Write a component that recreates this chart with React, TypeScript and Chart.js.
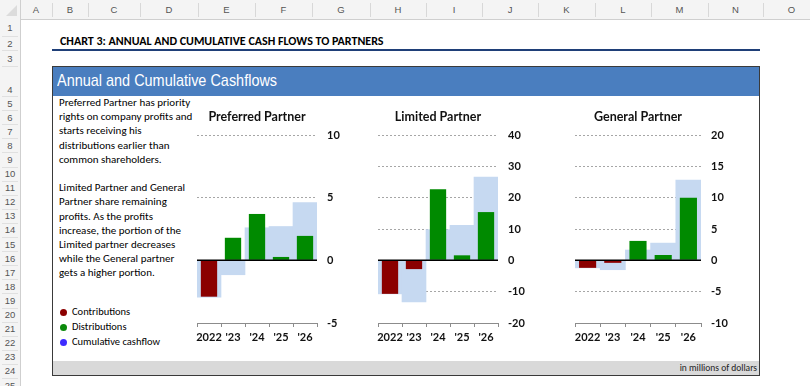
import React, { useEffect, useRef } from "react";
import { Chart, registerables } from "chart.js";
Chart.register(...registerables);

// ---------- data ----------
const years = ["2022", "'23", "'24", "'25", "'26"];

const prefContributions = [-2.9, null, null, null, null];
const prefDistributions = [null, 1.8, 3.7, 0.27, 1.95];
const prefCumulative = [-2.93, -1.15, 2.6, 2.7, 4.6];

const ltdContributions = [-10.7, -2.8, null, null, null];
const ltdDistributions = [null, null, 22.7, 1.6, 15.4];
const ltdCumulative = [-10.7, -13.3, 9.8, 11.2, 26.6];

const genContributions = [-1.2, -0.4, null, null, null];
const genDistributions = [null, null, 3.1, 0.85, 10.0];
const genCumulative = [-1.2, -1.5, 1.65, 2.75, 12.8];

const columnLetters = ["A", "B", "C", "D", "E", "F", "G", "H", "I", "J", "K", "L", "M", "N", "O"];
const rowNumbers = Array.from({ length: 25 }, (_, i) => String(i + 1));

const paragraph1 = [
  "Preferred Partner has priority",
  "rights on company profits and",
  "starts receiving his",
  "distributions earlier than",
  "common shareholders.",
];
const paragraph2 = [
  "Limited Partner and General",
  "Partner share remaining",
  "profits. As the profits",
  "increase, the portion of the",
  "Limited partner decreases",
  "while the General partner",
  "gets a higher portion.",
];
const legendItems = [
  { label: "Contributions", color: "#8b0000" },
  { label: "Distributions", color: "#0b8a0b" },
  { label: "Cumulative cashflow", color: "#3d2bff" },
];

// ---------- layout ----------
const colEdges = [20, 52, 88, 140, 198, 255, 312, 370, 426, 482, 538, 595, 651, 708, 763, 820];
const rowEdges = (() => {
  const e = [19, 36, 50, 66, 96];
  for (let i = 5; i <= 25; i++) e.push(96 + (i - 4) * 14.1);
  return e;
})();

const RED = "#8b0000";
const GREEN = "#008a00";
const LIGHTBLUE = "#c6d9f1";
const chartFont = "'Lato', 'DejaVu Sans', sans-serif";
const cellFont = "Carlito, 'Lato', 'Liberation Sans', sans-serif";

const zeroLinePlugin = {
  id: "zeroLine",
  afterDatasetsDraw(chart: any) {
    const y = chart.scales.y.getPixelForValue(0);
    const { left, right } = chart.chartArea;
    const ctx = chart.ctx;
    ctx.save();
    ctx.strokeStyle = "#000";
    ctx.lineWidth = 1.5;
    ctx.beginPath();
    ctx.moveTo(left, y);
    ctx.lineTo(right, y);
    ctx.stroke();
    ctx.restore();
  },
};

type PCProps = {
  title: string;
  contributions: (number | null)[];
  distributions: (number | null)[];
  cumulative: number[];
  min: number;
  max: number;
  step: number;
  plotLeft: number;
  plotWidth: number;
};

function PartnerChart(p: PCProps) {
  const ref = useRef<HTMLCanvasElement>(null);
  const canvasLeft = p.plotLeft - 10;
  const canvasTop = 100;
  const width = p.plotWidth + 10 + 40;
  const height = 250;
  useEffect(() => {
    const chart = new Chart(ref.current!, {
      type: "bar",
      data: {
        labels: years,
        datasets: [
          {
            label: "Contributions",
            data: p.contributions as any,
            backgroundColor: RED,
            barPercentage: 0.68,
            categoryPercentage: 1,
            grouped: false,
            order: 1,
          },
          {
            label: "Distributions",
            data: p.distributions as any,
            backgroundColor: GREEN,
            barPercentage: 0.68,
            categoryPercentage: 1,
            grouped: false,
            order: 2,
          },
          {
            label: "Cumulative cashflow",
            data: p.cumulative,
            backgroundColor: LIGHTBLUE,
            barPercentage: 1,
            categoryPercentage: 1,
            grouped: false,
            order: 10,
          },
        ],
      },
      options: {
        animation: false,
        responsive: false,
        maintainAspectRatio: false,
        layout: { padding: { left: 10, right: 0, top: 0, bottom: 0 } },
        plugins: {
          legend: { display: false },
          tooltip: { enabled: false },
          title: {
            display: true,
            text: p.title,
            fullSize: false,
            color: "#111",
            font: { family: chartFont, size: 12.5, weight: "bold", lineHeight: 1.2 },
            padding: { top: 9, bottom: 11 },
          },
        },
        scales: {
          x: {
            grid: {
              offset: true,
              drawOnChartArea: false,
              drawTicks: true,
              tickLength: 4,
              color: "#8c8c8c",
            },
            border: { display: true, color: "#8c8c8c", width: 1 },
            ticks: {
              color: "#111",
              font: { family: chartFont, size: 11, weight: "bold" },
              padding: 4,
              maxRotation: 0,
              autoSkip: false,
            },
            afterFit: (s: any) => {
              s.height = 27;
            },
          },
          y: {
            position: "right",
            min: p.min,
            max: p.max,
            ticks: {
              stepSize: p.step,
              color: "#111",
              font: { family: chartFont, size: 11, weight: "bold" },
              padding: 10,
            },
            grid: { color: "#a6a6a6", drawTicks: false, lineWidth: 1 },
            border: { display: false, dash: [2, 2] },
            afterFit: (s: any) => {
              s.width = 40;
            },
          },
        },
      },
      plugins: [zeroLinePlugin],
    });
    return () => chart.destroy();
  }, []);
  return (
    <canvas
      ref={ref}
      width={width}
      height={height}
      style={{ position: "absolute", left: canvasLeft, top: canvasTop, width, height }}
    />
  );
}

export default function App() {
  useEffect(() => {
    document.body.style.margin = "0";
  }, []);
  return (
    <div
      style={{
        position: "fixed",
        left: 0,
        top: 0,
        width: 810,
        height: 386,
        background: "#fff",
        overflow: "hidden",
        fontFamily: "'Liberation Sans', sans-serif",
      }}
    >
      {/* column header */}
      <div
        style={{
          position: "absolute",
          left: 0,
          top: 0,
          width: 810,
          height: 19,
          background: "#f4f4f4",
          borderBottom: "1px solid #cfcfcf",
        }}
      />
      {/* row header */}
      <div
        style={{
          position: "absolute",
          left: 0,
          top: 0,
          width: 20,
          height: 386,
          background: "#f4f4f4",
          borderRight: "1px solid #cfcfcf",
        }}
      />
      <div
        style={{
          position: "absolute",
          left: 6,
          top: 5,
          width: 0,
          height: 0,
          borderLeft: "11px solid transparent",
          borderBottom: "11px solid #dcdcdc",
        }}
      />
      {columnLetters.map((c, i) => (
        <React.Fragment key={c}>
          <div
            style={{
              position: "absolute",
              left: colEdges[i],
              top: 0,
              width: colEdges[i + 1] - colEdges[i],
              height: 19,
              lineHeight: "19px",
              textAlign: "center",
              fontSize: 9.5,
              color: "#555",
            }}
          >
            {c}
          </div>
          <div
            style={{
              position: "absolute",
              left: colEdges[i + 1],
              top: 3,
              width: 1,
              height: 14,
              background: "#d8d8d8",
            }}
          />
        </React.Fragment>
      ))}
      {rowNumbers.map((r, i) => {
        const top = rowEdges[i];
        const h = rowEdges[i + 1] - top;
        return (
          <React.Fragment key={r}>
            <div
              style={{
                position: "absolute",
                left: 0,
                top,
                width: 20,
                height: h,
                display: "flex",
                alignItems: i === 3 ? "flex-end" : "center",
                justifyContent: "center",
                paddingBottom: i === 3 ? 1 : 0,
                boxSizing: "border-box",
                fontSize: 9.5,
                color: "#555",
              }}
            >
              {r}
            </div>
            <div
              style={{
                position: "absolute",
                left: 2,
                top: top + h,
                width: 16,
                height: 1,
                background: "#e0e0e0",
              }}
            />
          </React.Fragment>
        );
      })}

      {/* sheet title */}
      <div
        style={{
          position: "absolute",
          left: 60,
          top: 34,
          fontFamily: cellFont,
          fontWeight: "bold",
          fontSize: 12,
          color: "#000",
          whiteSpace: "nowrap",
        }}
      >
        CHART 3: ANNUAL AND CUMULATIVE CASH FLOWS TO PARTNERS
      </div>
      <div style={{ position: "absolute", left: 52, top: 49, width: 708, height: 2, background: "#1f3f78" }} />

      {/* box */}
      <div
        style={{
          position: "absolute",
          left: 52,
          top: 66,
          width: 708,
          height: 310,
          border: "1px solid #3a3a3a",
          boxSizing: "border-box",
          background: "#fff",
        }}
      />
      <div
        style={{
          position: "absolute",
          left: 53,
          top: 67,
          width: 706,
          height: 29,
          background: "#4a7ebf",
        }}
      />
      <div
        style={{
          position: "absolute",
          left: 57,
          top: 71,
          fontSize: 17,
          color: "#fff",
          whiteSpace: "nowrap",
          transform: "scaleX(0.85)",
          transformOrigin: "left top",
          fontFamily: "'Liberation Sans', Arial, sans-serif",
        }}
      >
        Annual and Cumulative Cashflows
      </div>
      <div
        style={{
          position: "absolute",
          left: 53,
          top: 361,
          width: 706,
          height: 14,
          background: "#d9d9d9",
        }}
      />
      <div
        style={{
          position: "absolute",
          right: 810 - 757,
          top: 362,
          fontSize: 9.5,
          fontFamily: cellFont,
          color: "#222",
          whiteSpace: "nowrap",
        }}
      >
        in millions of dollars
      </div>

      {/* paragraph text */}
      {[...paragraph1, "", ...paragraph2].map((line, i) => (
        <div
          key={i}
          style={{
            position: "absolute",
            left: 59,
            top: 96 + i * 14.2,
            height: 14,
            lineHeight: "14px",
            fontSize: 11,
            fontFamily: cellFont,
            color: "#000",
            whiteSpace: "nowrap",
          }}
        >
          {line}
        </div>
      ))}

      {/* legend */}
      {legendItems.map((it, i) => (
        <React.Fragment key={it.label}>
          <div
            style={{
              position: "absolute",
              left: 60,
              top: 308.5 + i * 15,
              width: 7,
              height: 7,
              borderRadius: "50%",
              background: it.color,
            }}
          />
          <div
            style={{
              position: "absolute",
              left: 72,
              top: 305 + i * 15,
              height: 14,
              lineHeight: "14px",
              fontSize: 10.5,
              fontFamily: cellFont,
              color: "#000",
              whiteSpace: "nowrap",
            }}
          >
            {it.label}
          </div>
        </React.Fragment>
      ))}

      <PartnerChart
        title="Preferred Partner"
        contributions={prefContributions}
        distributions={prefDistributions}
        cumulative={prefCumulative}
        min={-5}
        max={10}
        step={5}
        plotLeft={197}
        plotWidth={120}
      />
      <PartnerChart
        title="Limited Partner"
        contributions={ltdContributions}
        distributions={ltdDistributions}
        cumulative={ltdCumulative}
        min={-20}
        max={40}
        step={10}
        plotLeft={378}
        plotWidth={120}
      />
      <PartnerChart
        title="General Partner"
        contributions={genContributions}
        distributions={genDistributions}
        cumulative={genCumulative}
        min={-10}
        max={20}
        step={5}
        plotLeft={575}
        plotWidth={126}
      />
    </div>
  );
}
